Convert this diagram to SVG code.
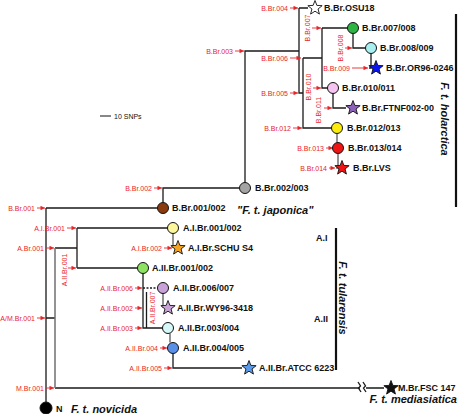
<svg xmlns="http://www.w3.org/2000/svg" width="468" height="414" viewBox="0 0 468 414">
<style>
.br{stroke:#1a1a1a;stroke-width:1.3;fill:none}
.gr{stroke:#707070;stroke-width:1.5;fill:none}
.ra{stroke:#e8262a;stroke-width:0.9;fill:none;marker-end:url(#ah)}
.rl{font-family:"Liberation Sans",Arial,sans-serif;font-size:7px;fill:#e8262a}
.lb{font-family:"Liberation Sans",Arial,sans-serif;font-size:9px;font-weight:bold;fill:#111}
.sp{font-family:"Liberation Sans",Arial,sans-serif;font-size:11px;font-weight:bold;font-style:italic;fill:#111}
.nd{stroke:#111;stroke-width:1}
</style>
<defs>
<marker id="ah" viewBox="0 0 6 6" refX="6" refY="3" markerWidth="5.5" markerHeight="4.5" markerUnits="userSpaceOnUse" orient="auto">
<path d="M0,0 L6,3 L0,6 z" fill="#e8262a"/>
</marker>
<path id="star" d="M0,-7.5 L1.89,-2.6 L7.13,-2.32 L3.06,0.99 L4.41,6.07 L0,3.2 L-4.41,6.07 L-3.06,0.99 L-7.13,-2.32 L-1.89,-2.6 Z" stroke="#111" stroke-width="0.9"/>
</defs>
<rect width="468" height="414" fill="#fff"/>

<g id="connectors">
<path class="br" d="M46,208 V402 M46,208 H157.5 M163,202.5 V188 H239.5 M245,182.5 V51 H299 M299,8 V93 H303 M299,8 H308 M303,58 V128 H331.5 M303,58 H322 M322,28 V88 H327.5 M322,28 H347.5 M353,33.5 V48 H365.5 M371,53.5 V68 H369 M333,93.5 V108 H346"/>
<path class="gr" d="M337,133.5 V142.5 M338,153.5 V168 H336"/>
<path class="br" d="M46,318 H55 M77,228 V268 M77,228 H167.5 M77,268 H137.5 M143,273.5 V328 H162.5 M146.5,292 V328 M173,353.5 V368 H242 M55,248 H77 M55,388 H360 M366,388 H384"/>
<path class="gr" d="M55,248 V388 M173,233.5 V248 M163,293.5 V308 M170,333.5 V342.5"/>
<path class="br" stroke-dasharray="2,1.5" d="M143,288 H157.5"/>
<path class="br" stroke-width="0.9" d="M358,382 l2.5,4 l-2,2 l2.5,4 M363,382 l2.5,4 l-2,2 l2.5,4"/>
<path class="ra" d="M290,8 H298"/>
<path class="ra" d="M235,51 H244"/>
<path class="ra" d="M290,58 H301"/>
<path class="ra" d="M290,93 H298"/>
<path class="ra" d="M293,128 H302"/>
<path class="ra" d="M326,148 H333"/>
<path class="ra" d="M329,168 H335"/>
<path class="ra" d="M352,68 H368"/>
<path class="ra" d="M312,28 H321"/>
<path class="ra" d="M345,48 H352"/>
<path class="ra" d="M313,88 H321"/>
<path class="ra" d="M324,108 H332"/>
<path class="ra" d="M154,188 H162"/>
<path class="ra" d="M37,208 H45"/>
<path class="ra" d="M67,228 H76"/>
<path class="ra" d="M46,248 H54"/>
<path class="ra" d="M68,268 H76"/>
<path class="ra" d="M164,248 H172"/>
<path class="ra" d="M135,288 H142"/>
<path class="ra" d="M135,308 H142"/>
<path class="ra" d="M135,328 H142"/>
<path class="ra" d="M160,348 H167"/>
<path class="ra" d="M164,368 H172"/>
<path class="ra" d="M37,318 H45"/>
<path class="ra" d="M46,388 H54"/>
</g>

<g id="branch-labels">
<text class="rl" x="288" y="10.5" text-anchor="end">B.Br.004</text>
<text class="rl" x="233" y="53.5" text-anchor="end">B.Br.003</text>
<text class="rl" x="288" y="60.5" text-anchor="end">B.Br.006</text>
<text class="rl" x="288" y="95.5" text-anchor="end">B.Br.005</text>
<text class="rl" x="291" y="130.5" text-anchor="end">B.Br.012</text>
<text class="rl" x="324" y="150.5" text-anchor="end">B.Br.013</text>
<text class="rl" x="327" y="170.5" text-anchor="end">B.Br.014</text>
<text class="rl" x="350" y="70.5" text-anchor="end">B.Br.009</text>
<text class="rl" x="152" y="190.5" text-anchor="end">B.Br.002</text>
<text class="rl" x="35" y="210.5" text-anchor="end">B.Br.001</text>
<text class="rl" x="65" y="230.5" text-anchor="end">A.I.Br.001</text>
<text class="rl" x="44" y="250.5" text-anchor="end">A.Br.001</text>
<text class="rl" x="162" y="250.5" text-anchor="end">A.I.Br.002</text>
<text class="rl" x="133" y="290.5" text-anchor="end">A.II.Br.006</text>
<text class="rl" x="133" y="310.5" text-anchor="end">A.II.Br.002</text>
<text class="rl" x="133" y="330.5" text-anchor="end">A.II.Br.003</text>
<text class="rl" x="158" y="350.5" text-anchor="end">A.II.Br.004</text>
<text class="rl" x="162" y="370.5" text-anchor="end">A.II.Br.005</text>
<text class="rl" x="35" y="320.5" text-anchor="end">A/M.Br.001</text>
<text class="rl" x="44" y="390.5" text-anchor="end">M.Br.001</text>
<text class="rl" transform="translate(310,28) rotate(-90)" text-anchor="middle">B.Br.007</text>
<text class="rl" transform="translate(343,48) rotate(-90)" text-anchor="middle">B.Br.008</text>
<text class="rl" transform="translate(311,87) rotate(-90)" text-anchor="middle">B.Br.010</text>
<text class="rl" transform="translate(321,110) rotate(-90)" text-anchor="middle">B.Br.011</text>
<text class="rl" transform="translate(67,270) rotate(-90)" text-anchor="middle">A.II.Br.001</text>
<text class="rl" transform="translate(155,308) rotate(-90)" text-anchor="middle">A.II.Br.007</text>
</g>

<g id="scale">
<line x1="100" y1="116" x2="111" y2="116" stroke="#111" stroke-width="1"/>
<text x="114" y="118.5" font-family="Liberation Sans, Arial, sans-serif" font-size="7" fill="#111">10 SNPs</text>
</g>

<g id="n-OSU18"><use href="#star" x="315" y="8" fill="#fff"/><text class="lb" x="324" y="11.3">B.Br.OSU18</text></g>
<g id="n-007-008"><circle class="nd" cx="353" cy="28" r="5.5" fill="#2fb344"/><text class="lb" x="362" y="31.3">B.Br.007/008</text></g>
<g id="n-008-009"><circle class="nd" cx="371" cy="48" r="5.5" fill="#a8f0ef"/><text class="lb" x="380" y="51.3">B.Br.008/009</text></g>
<g id="n-OR96"><use href="#star" x="376" y="68" fill="#0a14f0"/><text class="lb" x="386" y="71.3">B.Br.OR96-0246</text></g>
<g id="n-010-011"><circle class="nd" cx="333" cy="88" r="5.5" fill="#f6c4f0"/><text class="lb" x="342" y="91.3">B.Br.010/011</text></g>
<g id="n-FTNF"><use href="#star" x="353" y="108" fill="#8b62b8"/><text class="lb" x="362" y="111.3">B.Br.FTNF002-00</text></g>
<g id="n-012-013"><circle class="nd" cx="337" cy="128" r="5.5" fill="#fbec0c"/><text class="lb" x="347" y="131.3">B.Br.012/013</text></g>
<g id="n-013-014"><circle class="nd" cx="338" cy="148" r="5.5" fill="#ee1515"/><text class="lb" x="348" y="151.3">B.Br.013/014</text></g>
<g id="n-LVS"><use href="#star" x="342" y="168" fill="#ee1515"/><text class="lb" x="353" y="171.3">B.Br.LVS</text></g>
<g id="n-002-003"><circle class="nd" cx="245" cy="188" r="5.5" fill="#a3a3a3"/><text class="lb" x="255" y="191.3">B.Br.002/003</text></g>
<g id="n-001-002"><circle class="nd" cx="163" cy="208" r="5.5" fill="#8a3a0c"/><text class="lb" x="172" y="211.3">B.Br.001/002</text></g>
<g id="n-AI-001-002"><circle class="nd" cx="173" cy="228" r="5.5" fill="#fbf59c"/><text class="lb" x="183" y="231.3">A.I.Br.001/002</text></g>
<g id="n-SCHU"><use href="#star" x="178" y="248" fill="#f5a21e"/><text class="lb" x="188" y="251.3">A.I.Br.SCHU S4</text></g>
<g id="n-AII-001-002"><circle class="nd" cx="143" cy="268" r="5.5" fill="#8ee262"/><text class="lb" x="152" y="271.3">A.II.Br.001/002</text></g>
<g id="n-AII-006-007"><circle class="nd" cx="163" cy="288" r="5.5" fill="#c9a2d8"/><text class="lb" x="173" y="291.3">A.II.Br.006/007</text></g>
<g id="n-WY96"><use href="#star" x="168" y="308" fill="#c9a2d8"/><text class="lb" x="177" y="311.3">A.II.Br.WY96-3418</text></g>
<g id="n-AII-003-004"><circle class="nd" cx="168" cy="328" r="5.5" fill="#d6f8f8"/><text class="lb" x="178" y="331.3">A.II.Br.003/004</text></g>
<g id="n-AII-004-005"><circle class="nd" cx="173" cy="348" r="5.5" fill="#5a8fe8"/><text class="lb" x="183" y="351.3">A.II.Br.004/005</text></g>
<g id="n-ATCC"><use href="#star" x="249" y="368" fill="#5a9ae8"/><text class="lb" x="259" y="371.3">A.II.Br.ATCC 6223</text></g>
<g id="n-FSC147"><use href="#star" x="391" y="388" fill="#111"/><text class="lb" x="398" y="391" font-size="7.5">M.Br.FSC 147</text></g>
<g id="n-N"><circle class="nd" cx="46" cy="408" r="6" fill="#000"/><text class="lb" x="56" y="412">N</text></g>

<g id="subspecies">
<text class="sp" x="71" y="413" font-size="12">F. t. novicida</text>
<text class="sp" x="237" y="214">"F. t. japonica"</text>
<text class="sp" x="457" y="403" text-anchor="end">F. t. mediasiatica</text>
<line x1="456" y1="14" x2="456" y2="207" stroke="#111" stroke-width="2.2"/>
<text class="sp" transform="translate(441,119) rotate(90)" text-anchor="middle" font-size="11.5">F. t. holarctica</text>
<line x1="336" y1="228" x2="336" y2="370" stroke="#111" stroke-width="2.2"/>
<text class="sp" transform="translate(339,298) rotate(90)" text-anchor="middle">F. t. tularensis</text>
<text class="lb" x="316" y="241" font-size="9.5">A.I</text>
<text class="lb" x="314" y="322" font-size="9.5">A.II</text>
</g>
</svg>
